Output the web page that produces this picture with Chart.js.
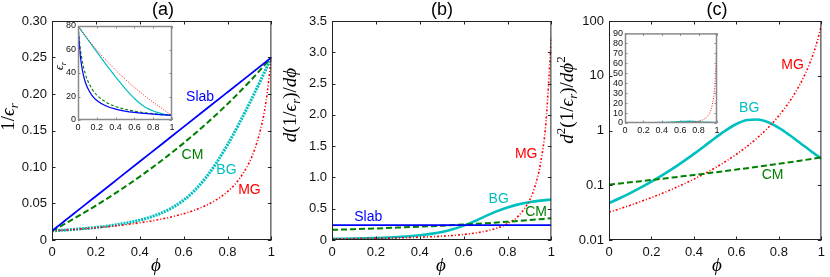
<!DOCTYPE html>
<html>
<head>
<meta charset="utf-8">
<script src="https://cdn.jsdelivr.net/npm/chart.js@4.4.0/dist/chart.umd.min.js"></script>
<style>
  body { margin: 0; background: #fff; }
  #wrap { position: relative; width: 830px; height: 277px; overflow: hidden; background: #fff; }
  canvas { position: absolute; }
</style>
</head>
<body>
<div id="wrap">
  <canvas id="pa"></canvas>
  <canvas id="pb"></canvas>
  <canvas id="pc"></canvas>
  <canvas id="ia"></canvas>
  <canvas id="ic"></canvas>
</div>
<script>
// --- values (phi = volume fraction) ---
const phiA = [0, 0.025, 0.05, 0.075, 0.1, 0.15, 0.2, 0.3, 0.4, 0.5, 0.6, 0.7, 0.8, 0.9, 1];
const slabInv = [0.0125, 0.01844, 0.02438, 0.03031, 0.03625, 0.04813, 0.06, 0.08375, 0.1075, 0.13125, 0.155, 0.17875, 0.2025, 0.22625, 0.25];
const slabD1 = [0.2375, 0.2375, 0.2375, 0.2375, 0.2375, 0.2375, 0.2375, 0.2375, 0.2375, 0.2375, 0.2375, 0.2375, 0.2375, 0.2375, 0.2375];
const slabEps = [80, 54.24, 41.03, 32.99, 27.59, 20.78, 16.67, 11.94, 9.30, 7.62, 6.45, 5.59, 4.94, 4.42, 4];
const slabD2 = [0, 0, 0, 0, 0, 0, 0, 0, 0, 0, 0, 0, 0, 0, 0];

const cmInv = [0.0125, 0.01659, 0.02075, 0.02497, 0.02926, 0.03806, 0.04715, 0.0663, 0.08683, 0.10891, 0.13272, 0.15846, 0.18639, 0.21678, 0.25];
const cmD1 = [0.1623, 0.1649, 0.1676, 0.1703, 0.1731, 0.1789, 0.185, 0.1982, 0.2128, 0.2291, 0.2474, 0.2679, 0.2911, 0.3175, 0.3476];
const cmD2 = [0.1028, 0.1053, 0.1078, 0.1105, 0.1132, 0.1189, 0.1251, 0.1387, 0.1543, 0.1724, 0.1934, 0.218, 0.2469, 0.2812, 0.3221];
const cmEps = [80, 60.28, 48.2, 40.05, 34.18, 26.28, 21.21, 15.08, 11.52, 9.18, 7.54, 6.31, 5.37, 4.61, 4];

const phiBG = [0, 0.05, 0.1, 0.2, 0.3, 0.4, 0.45, 0.5, 0.55, 0.6, 0.65, 0.7, 0.75, 0.8, 0.85, 0.9, 0.95, 1];
const bgInv = [0.0125, 0.01343, 0.01451, 0.01725, 0.02119, 0.02721, 0.03151, 0.03712, 0.04458, 0.05456, 0.0678, 0.08488, 0.1059, 0.13042, 0.15775, 0.18715, 0.21804, 0.25];
const bgD1 = [0.0174, 0.02, 0.0232, 0.0324, 0.0478, 0.0755, 0.0976, 0.1287, 0.1719, 0.2299, 0.302, 0.3815, 0.4575, 0.521, 0.5695, 0.6046, 0.6297, 0.6477];
const bgD2 = [0.0471, 0.0578, 0.0719, 0.1161, 0.2009, 0.3742, 0.5223, 0.7313, 1.0058, 1.312, 1.5498, 1.5932, 1.4148, 1.1186, 0.8253, 0.5917, 0.4227, 0.3052];
const bgEps = [80, 74.45, 68.92, 57.96, 47.19, 36.75, 31.74, 26.94, 22.43, 18.33, 14.75, 11.78, 9.44, 7.67, 6.34, 5.34, 4.59, 4];

const phiMG = [0, 0.1, 0.2, 0.3, 0.4, 0.5, 0.55, 0.6, 0.65, 0.7, 0.75, 0.8, 0.85, 0.9, 0.925, 0.95, 0.975, 1];
const mgInv = [0.0125, 0.01442, 0.01677, 0.01972, 0.02355, 0.02869, 0.032, 0.03599, 0.04091, 0.04714, 0.05525, 0.06627, 0.08211, 0.1068, 0.12516, 0.15064, 0.18837, 0.25];
const mgD1 = [0.0174, 0.0211, 0.0262, 0.0333, 0.0439, 0.0604, 0.0723, 0.0882, 0.1099, 0.1409, 0.187, 0.26, 0.3859, 0.6317, 0.8536, 1.2167, 1.8723, 3.2458];
const mgD2 = [0.0322, 0.0431, 0.0596, 0.0856, 0.1293, 0.2085, 0.2734, 0.3683, 0.5127, 0.7435, 1.1367, 1.8641, 3.3715, 7.0607, 11.089, 18.871, 36.02, 82.23];
const mgEps = [80, 69.37, 59.64, 50.71, 42.47, 34.85, 31.25, 27.79, 24.44, 21.22, 18.1, 15.09, 12.18, 9.36, 7.99, 6.64, 5.31, 4];

const xTicks = [0, 0.2, 0.4, 0.6, 0.8, 1];
const invTicks = [0, 0.05, 0.1, 0.15, 0.2, 0.25, 0.3];
const d1Ticks = [0, 0.5, 1, 1.5, 2, 2.5, 3, 3.5];
const d2Ticks = [0.01, 0.1, 1, 10, 100];
const epsTicks = [0, 20, 40, 60, 80];
const d2InsetTicks = [0, 10, 20, 30, 40, 50, 60, 70, 80, 90];

const BLUE = '#0000ff', GREEN = '#008000', CYAN = '#00bfbf', RED = '#ff0000';
const SANS = '"Liberation Sans", Arial, sans-serif';
const SERIF = '"Liberation Serif", "DejaVu Serif", serif';

const pts = (xs, ys) => xs.map((x, i) => ({ x: x, y: ys[i] }));
const fmtX = v => (v === 0 || v === 1) ? String(v) : v.toFixed(1);

// draw a little math string made of pieces (italic / sub / sup)
function rich(ctx, segs, x, y, size, rot) {
  const fontOf = s => (s.it ? 'italic ' : '') + ((s.sub || s.sup) ? Math.round(size * 0.7) : size) + 'px ' + SERIF;
  ctx.save();
  ctx.translate(x, y);
  ctx.rotate(rot || 0);
  ctx.textBaseline = 'middle';
  ctx.textAlign = 'left';
  ctx.fillStyle = '#000';
  let w = 0;
  segs.forEach(s => { ctx.font = fontOf(s); w += ctx.measureText(s.t).width; });
  let cx = -w / 2;
  segs.forEach(s => {
    ctx.font = fontOf(s);
    const dy = s.sub ? size * 0.3 : (s.sup ? -size * 0.35 : 0);
    ctx.fillText(s.t, cx, dy);
    cx += ctx.measureText(s.t).width;
  });
  ctx.restore();
}

function panel(id, box, area, cfg) {
  const cv = document.getElementById(id);
  cv.width = box.w; cv.height = box.h;
  cv.style.left = box.x + 'px'; cv.style.top = box.y + 'px';

  const framePlugin = {
    id: 'frame',
    beforeDatasetsDraw(chart) {
      if (!cfg.inset) return;
      const a = chart.chartArea, c = chart.ctx;
      c.save(); c.fillStyle = '#fff'; c.fillRect(a.left, a.top, a.right - a.left, a.bottom - a.top); c.restore();
    },
    afterDatasetsDraw(chart) {
      const a = chart.chartArea, c = chart.ctx;
      const tl = cfg.inset ? 2.5 : 3.5;
      c.save();
      c.strokeStyle = cfg.inset ? '#8a8a8a' : '#222';
      c.lineWidth = cfg.inset ? 1.5 : 1;
      c.strokeRect(a.left + 0.5, a.top + 0.5, a.right - a.left - 1, a.bottom - a.top - 1);
      c.lineWidth = 1;
      c.beginPath();
      chart.scales.x.ticks.forEach(t => {
        const px = Math.round(chart.scales.x.getPixelForValue(t.value)) + 0.5;
        c.moveTo(px, a.bottom); c.lineTo(px, a.bottom - tl);
        c.moveTo(px, a.top); c.lineTo(px, a.top + tl);
      });
      chart.scales.y.ticks.forEach(t => {
        const py = Math.round(chart.scales.y.getPixelForValue(t.value)) + 0.5;
        c.moveTo(a.left, py); c.lineTo(a.left + tl, py);
        c.moveTo(a.right, py); c.lineTo(a.right - tl, py);
      });
      c.stroke();
      c.restore();
    },
    afterDraw(chart) {
      const c = chart.ctx;
      (cfg.labels || []).forEach(l => {
        c.save();
        c.font = '14px ' + SANS;
        c.fillStyle = l.color;
        c.textAlign = 'center'; c.textBaseline = 'middle';
        c.fillText(l.t, chart.scales.x.getPixelForValue(l.x), chart.scales.y.getPixelForValue(l.y));
        c.restore();
      });
      (cfg.texts || []).forEach(t => {
        if (t.plain) {
          c.save();
          c.font = t.size + 'px ' + SANS; c.fillStyle = '#000';
          c.textAlign = 'center'; c.textBaseline = 'middle';
          c.fillText(t.plain, t.x - box.x, t.y - box.y);
          c.restore();
        } else {
          rich(c, t.segs, t.x - box.x, t.y - box.y, t.size, t.rot);
        }
      });
    }
  };

  const tickFont = { family: SANS, size: cfg.inset ? 9 : 13 };
  return new Chart(cv, {
    type: 'line',
    data: {
      datasets: cfg.sets.map(s => ({
        data: s.data,
        borderColor: s.color,
        borderWidth: s.w,
        borderDash: s.dash || [],
        pointRadius: 0,
        fill: false,
        cubicInterpolationMode: 'monotone'
      }))
    },
    options: {
      responsive: false,
      animation: false,
      events: [],
      layout: { padding: { left: 0, top: area.y - box.y, right: (box.x + box.w) - (area.x + area.w), bottom: 0 } },
      plugins: { legend: { display: false }, tooltip: { enabled: false } },
      scales: {
        x: {
          type: 'linear', min: 0, max: 1,
          afterBuildTicks: s => { s.ticks = xTicks.map(v => ({ value: v })); },
          afterFit: s => { s.height = (box.y + box.h) - (area.y + area.h); },
          grid: { display: false, drawTicks: false }, border: { display: false },
          ticks: { font: tickFont, color: '#111', padding: cfg.inset ? 2 : 5, maxRotation: 0, autoSkip: false, callback: v => fmtX(v) }
        },
        y: {
          type: cfg.yType || 'linear', min: cfg.yMin, max: cfg.yMax,
          afterBuildTicks: s => { s.ticks = cfg.yTicks.map(v => ({ value: v })); },
          afterFit: s => { s.width = area.x - box.x; },
          grid: { display: false, drawTicks: false }, border: { display: false },
          ticks: { font: tickFont, color: '#111', padding: cfg.inset ? 2 : 5, autoSkip: false, callback: cfg.yFmt }
        }
      }
    },
    plugins: [framePlugin]
  });
}

const epsR = [{ t: 'ϵ', it: true }, { t: 'r', it: true, sub: true }];
const phiSym = [{ t: 'ϕ', it: true }];

// (a) 1/eps
panel('pa', { x: 0, y: 0, w: 280, h: 277 }, { x: 52, y: 21, w: 221, h: 219 }, {
  yMin: 0, yMax: 0.3, yTicks: invTicks,
  yFmt: v => v === 0 ? '0' : v.toFixed(2),
  sets: [
    { data: pts(phiA, slabInv), color: BLUE, w: 1.8 },
    { data: pts(phiA, cmInv), color: GREEN, w: 2, dash: [6, 3] },
    { data: pts(phiMG, mgInv), color: RED, w: 1.6, dash: [2, 2, 1, 2] },
    { data: pts(phiBG, bgInv), color: CYAN, w: 3, dash: [2, 1] }
  ],
  labels: [
    { t: 'Slab', x: 0.675, y: 0.196, color: BLUE },
    { t: 'CM', x: 0.64, y: 0.1164, color: GREEN },
    { t: 'BG', x: 0.795, y: 0.0959, color: CYAN },
    { t: 'MG', x: 0.9, y: 0.0685, color: RED }
  ],
  texts: [
    { plain: '(a)', x: 163, y: 10, size: 18 },
    { segs: [{ t: '1/' }].concat(epsR), x: 9, y: 117, size: 19, rot: -Math.PI / 2 },
    { segs: phiSym, x: 156, y: 266, size: 19 }
  ]
});

// (b) first derivative
panel('pb', { x: 280, y: 0, w: 280, h: 277 }, { x: 332, y: 21, w: 221, h: 219 }, {
  yMin: 0, yMax: 3.5, yTicks: d1Ticks,
  yFmt: v => v === 0 ? '0' : v.toFixed(1),
  sets: [
    { data: pts(phiA, slabD1), color: BLUE, w: 1.8 },
    { data: pts(phiA, cmD1), color: GREEN, w: 2, dash: [6, 3] },
    { data: pts(phiMG, mgD1), color: RED, w: 1.6, dash: [2, 2, 1, 2] },
    { data: pts(phiBG, bgD1), color: CYAN, w: 2.6 }
  ],
  labels: [
    { t: 'Slab', x: 0.165, y: 0.37, color: BLUE },
    { t: 'BG', x: 0.76, y: 0.655, color: CYAN },
    { t: 'CM', x: 0.93, y: 0.45, color: GREEN },
    { t: 'MG', x: 0.885, y: 1.374, color: RED }
  ],
  texts: [
    { plain: '(b)', x: 442, y: 10, size: 18 },
    { segs: [{ t: 'd', it: true }, { t: '(1/' }].concat(epsR, [{ t: ')/' }, { t: 'd', it: true }], phiSym), x: 291, y: 105, size: 19, rot: -Math.PI / 2 },
    { segs: phiSym, x: 441, y: 266, size: 19 }
  ]
});

// (c) second derivative, log axis
panel('pc', { x: 556, y: 0, w: 274, h: 277 }, { x: 609, y: 21, w: 220, h: 219 }, {
  yType: 'logarithmic', yMin: 0.01, yMax: 100, yTicks: d2Ticks,
  yFmt: v => String(v),
  sets: [
    { data: pts(phiA, cmD2), color: GREEN, w: 2, dash: [6, 3] },
    { data: pts(phiMG, mgD2), color: RED, w: 1.6, dash: [2, 2, 1, 2] },
    { data: pts(phiBG, bgD2), color: CYAN, w: 2.6 }
  ],
  labels: [
    { t: 'MG', x: 0.864, y: 15.7, color: RED },
    { t: 'BG', x: 0.66, y: 2.58, color: CYAN },
    { t: 'CM', x: 0.77, y: 0.154, color: GREEN }
  ],
  texts: [
    { plain: '(c)', x: 717, y: 10, size: 18 },
    { segs: [{ t: 'd', it: true }, { t: '2', sup: true }, { t: '(1/' }].concat(epsR, [{ t: ')/' }, { t: 'd', it: true }], phiSym, [{ t: '2', sup: true }]), x: 568, y: 100, size: 19, rot: -Math.PI / 2 },
    { segs: phiSym, x: 717, y: 266, size: 19 }
  ]
});

// inset of (a): eps_r
panel('ia', { x: 54, y: 18, w: 124, h: 118 }, { x: 78, y: 26, w: 94, h: 94 }, {
  inset: true,
  yMin: 0, yMax: 80, yTicks: epsTicks,
  yFmt: v => String(v),
  sets: [
    { data: pts(phiA, slabEps), color: BLUE, w: 1.2 },
    { data: pts(phiA, cmEps), color: GREEN, w: 1.1, dash: [3, 2] },
    { data: pts(phiMG, mgEps), color: RED, w: 0.9, dash: [1, 1.5] },
    { data: pts(phiBG, bgEps), color: CYAN, w: 1.2 }
  ],
  texts: [
    { segs: epsR, x: 60, y: 66, size: 12, rot: -Math.PI / 2 }
  ]
});
document.getElementById('ia').style.zIndex = 2;

// inset of (c): linear second derivative
panel('ic', { x: 604, y: 26, w: 120, h: 116 }, { x: 625, y: 32, w: 92, h: 91 }, {
  inset: true,
  yMin: 0, yMax: 90, yTicks: d2InsetTicks,
  yFmt: v => String(v),
  sets: [
    { data: pts(phiA, slabD2), color: BLUE, w: 1.2 },
    { data: pts(phiA, cmD2), color: GREEN, w: 1.1, dash: [3, 2] },
    { data: pts(phiMG, mgD2), color: RED, w: 0.9, dash: [1, 1.5] },
    { data: pts(phiBG, bgD2), color: CYAN, w: 1.6 }
  ]
});
document.getElementById('ic').style.zIndex = 2;
</script>
</body>
</html>
